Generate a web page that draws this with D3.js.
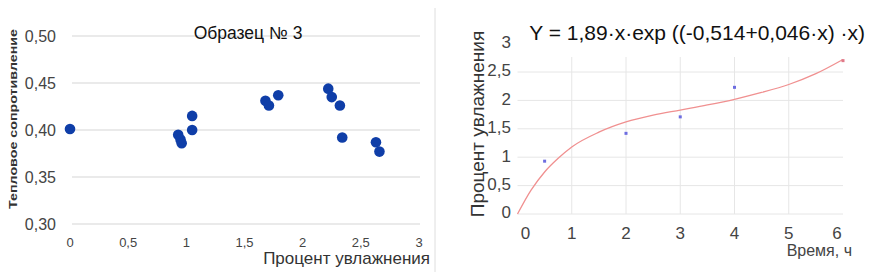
<!DOCTYPE html>
<html>
<head>
<meta charset="utf-8">
<script src="https://cdn.jsdelivr.net/npm/d3@7"></script>
<style>
  body { margin: 0; background: #fff; }
  svg { display: block; font-family: "Liberation Sans", Arial, sans-serif; }
</style>
</head>
<body>
<svg id="chart" width="874" height="274"></svg>
<script>
// left chart: thermal resistance vs moisture
var moisture = [ 0, 0.93, 0.95, 0.96, 1.05, 1.05, 1.68, 1.71, 1.79, 2.22, 2.25, 2.32, 2.34, 2.63, 2.66 ];
var resistance = [ 0.401, 0.395, 0.390, 0.386, 0.415, 0.400, 0.431, 0.426, 0.437, 0.444, 0.435, 0.426, 0.392, 0.387, 0.377 ];
var leftXTicks = [ 0, 0.5, 1, 1.5, 2, 2.5, 3 ];
var leftYTicks = [ 0.30, 0.35, 0.40, 0.45, 0.50 ];

// right chart: moisture vs time, with fitted curve
var timeH = [ 0.5, 2, 3, 4, 6 ];
var moistPct = [ 0.93, 1.42, 1.71, 2.23, 2.70 ];
var fitX = [ 0, 0.25, 0.5, 0.75, 1, 1.5, 2, 2.5, 3, 3.5, 4, 4.5, 5, 5.5, 6 ];
var fitY = [ 0, 0.42, 0.74, 0.98, 1.18, 1.44, 1.62, 1.74, 1.83, 1.92, 2.02, 2.14, 2.28, 2.47, 2.72 ];
var rightXTicks = [ 0, 1, 2, 3, 4, 5, 6 ];
var rightYTicks = [ 0, 0.5, 1, 1.5, 2, 2.5, 3 ];

var svg = d3.select( "#chart" );
var fmt = function( d ) { return String( d ).replace( ".", "," ); };

// divider between the two pictures
svg.append( "line" )
  .attr( "x1", 435 ).attr( "x2", 435 )
  .attr( "y1", 8 ).attr( "y2", 272 )
  .attr( "stroke", "#dedede" );

// ---------- left ----------
var x1 = d3.scaleLinear().domain( [ 0, 3 ] ).range( [ 70, 419 ] );
var y1 = d3.scaleLinear().domain( [ 0.30, 0.50 ] ).range( [ 224, 36 ] );
var gL = svg.append( "g" );

gL.selectAll( ".grid" ).data( leftYTicks ).enter().append( "line" )
  .attr( "x1", 72 ).attr( "x2", 420 )
  .attr( "y1", d => y1( d ) ).attr( "y2", d => y1( d ) )
  .attr( "stroke", "#d6d6d6" ).attr( "stroke-width", 1.2 );

gL.selectAll( ".yt" ).data( leftYTicks ).enter().append( "text" )
  .attr( "x", 56 ).attr( "y", d => y1( d ) )
  .attr( "dy", "0.35em" ).attr( "text-anchor", "end" )
  .attr( "font-size", 16 ).attr( "fill", "#444" )
  .text( d => d3.format( ".2f" )( d ).replace( ".", "," ) );

gL.selectAll( ".xt" ).data( leftXTicks ).enter().append( "text" )
  .attr( "x", d => x1( d ) ).attr( "y", 242 )
  .attr( "dy", "0.35em" ).attr( "text-anchor", "middle" )
  .attr( "font-size", 13 ).attr( "fill", "#444" )
  .text( fmt );

gL.selectAll( ".pt" ).data( moisture ).enter().append( "circle" )
  .attr( "cx", d => x1( d ) )
  .attr( "cy", ( d, i ) => y1( resistance[ i ] ) )
  .attr( "r", 5.3 )
  .attr( "fill", "#0f3ea8" );

gL.append( "text" )
  .attr( "x", 248 ).attr( "y", 33 ).attr( "dy", "0.35em" )
  .attr( "text-anchor", "middle" ).attr( "font-size", 17.5 ).attr( "fill", "#111" )
  .text( "Образец № 3" );

gL.append( "text" )
  .attr( "x", 430 ).attr( "y", 258 ).attr( "dy", "0.35em" )
  .attr( "text-anchor", "end" ).attr( "font-size", 17 ).attr( "fill", "#333" )
  .text( "Процент увлажнения" );

gL.append( "text" )
  .attr( "transform", "translate(13,119) rotate(-90)" )
  .attr( "dy", "0.35em" ).attr( "text-anchor", "middle" )
  .attr( "font-size", 11 ).attr( "font-weight", "bold" ).attr( "fill", "#333" )
  .attr( "textLength", 180 ).attr( "lengthAdjust", "spacingAndGlyphs" )
  .text( "Тепловое сопротивление" );

// ---------- right ----------
var x2 = d3.scaleLinear().domain( [ 0, 6 ] ).range( [ 517.5, 843 ] );
var y2 = d3.scaleLinear().domain( [ 0, 2.5 ] ).range( [ 214, 72 ] );
var gR = svg.append( "g" );

gR.selectAll( ".vg" ).data( rightXTicks.slice( 1, 6 ) ).enter().append( "line" )
  .attr( "x1", d => x2( d ) ).attr( "x2", d => x2( d ) )
  .attr( "y1", 57 ).attr( "y2", y2( 0 ) )
  .attr( "stroke", "#e6e6e6" );

gR.selectAll( ".hg" ).data( rightYTicks.slice( 0, 6 ) ).enter().append( "line" )
  .attr( "x1", x2( 0 ) ).attr( "x2", x2( 6 ) )
  .attr( "y1", d => y2( d ) ).attr( "y2", d => y2( d ) )
  .attr( "stroke", "#e6e6e6" );

gR.selectAll( ".yt" ).data( rightYTicks ).enter().append( "text" )
  .attr( "x", 511 ).attr( "y", d => y2( d ) - 1.5 )
  .attr( "dy", "0.35em" ).attr( "text-anchor", "end" )
  .attr( "font-size", 17 ).attr( "fill", "#444" )
  .text( fmt );

gR.selectAll( ".xt" ).data( rightXTicks ).enter().append( "text" )
  .attr( "x", d => x2( d ) + ( d === 0 ? 8 : d === 6 ? -6 : 0 ) ).attr( "y", 233 )
  .attr( "dy", "0.35em" ).attr( "text-anchor", "middle" )
  .attr( "font-size", 17 ).attr( "fill", "#444" )
  .text( fmt );

var line = d3.line()
  .x( d => x2( d[ 0 ] ) )
  .y( d => y2( d[ 1 ] ) )
  .curve( d3.curveMonotoneX );

gR.append( "path" )
  .datum( fitX.map( ( d, i ) => [ d, fitY[ i ] ] ) )
  .attr( "d", line )
  .attr( "fill", "none" )
  .attr( "stroke", "#f09090" )
  .attr( "stroke-width", 1.3 );

gR.selectAll( ".pt" ).data( timeH ).enter().append( "rect" )
  .attr( "x", d => x2( d ) - 1.5 )
  .attr( "y", ( d, i ) => y2( moistPct[ i ] ) - 1.5 )
  .attr( "width", 3 ).attr( "height", 3 )
  .attr( "fill", ( d, i ) => i === timeH.length - 1 ? "#e07a8a" : "#6d6de0" );

gR.append( "text" )
  .attr( "x", 865 ).attr( "y", 33 ).attr( "dy", "0.35em" )
  .attr( "text-anchor", "end" ).attr( "font-size", 21 ).attr( "fill", "#111" )
  .text( "Y = 1,89·x·exp ((-0,514+0,046·x) ·x)" );

gR.append( "text" )
  .attr( "x", 852 ).attr( "y", 250 ).attr( "dy", "0.35em" )
  .attr( "text-anchor", "end" ).attr( "font-size", 16 ).attr( "fill", "#444" )
  .text( "Время, ч" );

gR.append( "text" )
  .attr( "transform", "translate(477,124) rotate(-90)" )
  .attr( "dy", "0.35em" ).attr( "text-anchor", "middle" )
  .attr( "font-size", 19 ).attr( "fill", "#333" )
  .text( "Процент увлажнения" );
</script>
</body>
</html>
